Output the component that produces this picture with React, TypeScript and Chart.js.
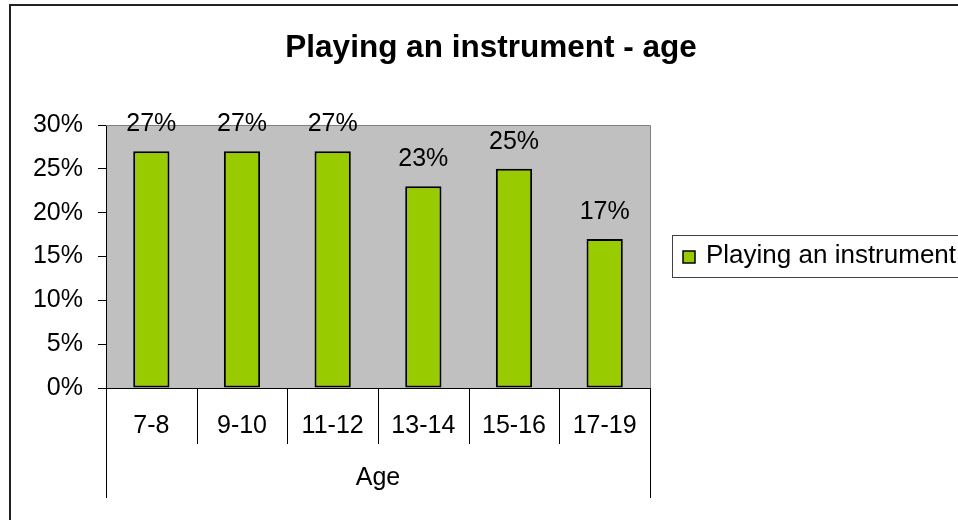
import React, { useEffect, useRef } from "react";
import { Chart, registerables } from "chart.js";

Chart.register(...registerables);

const TITLE = "Playing an instrument - age";
const CATEGORIES = ["7-8", "9-10", "11-12", "13-14", "15-16", "17-19"];
const SERIES_LABEL = "Playing an instrument";
const VALUES = [27, 27, 27, 23, 25, 17];
const Y_TICKS = [0, 5, 10, 15, 20, 25, 30];
const X_GROUP_LABEL = "Age";

const FONT = '"Liberation Sans", Arial, sans-serif';
const BAR_COLOR = "#99CC00";
const PLOT_BG = "#C0C0C0";

const decorPlugin = {
  id: "decor",
  beforeDraw(chart: any) {
    const { ctx, chartArea: a } = chart;
    ctx.save();
    ctx.fillStyle = "#FFFFFF";
    ctx.fillRect(0, 0, chart.width, chart.height);
    ctx.fillStyle = PLOT_BG;
    ctx.fillRect(a.left, a.top, a.right - a.left, a.bottom - a.top);
    ctx.restore();
  },
  beforeDatasetsDraw(chart: any) {
    const { ctx, chartArea: a } = chart;
    ctx.save();
    ctx.strokeStyle = "#808080";
    ctx.lineWidth = 1;
    ctx.beginPath();
    ctx.moveTo(a.left, a.top + 0.5);
    ctx.lineTo(a.right + 0.5, a.top + 0.5);
    ctx.lineTo(a.right + 0.5, a.bottom);
    ctx.stroke();
    ctx.restore();
  },
  afterDatasetsDraw(chart: any) {
    const { ctx } = chart;
    const meta = chart.getDatasetMeta(0);
    const data = chart.data.datasets[0].data;
    ctx.save();
    ctx.fillStyle = "#000";
    ctx.font = `25px ${FONT}`;
    ctx.textAlign = "center";
    ctx.textBaseline = "alphabetic";
    meta.data.forEach((el: any, i: number) => {
      ctx.fillText(`${data[i]}%`, el.x, el.y - 20);
    });
    ctx.restore();
  },
  afterDraw(chart: any) {
    const { ctx, chartArea: a } = chart;
    const xs = chart.scales.x;
    ctx.save();
    // frame
    ctx.strokeStyle = "#222";
    ctx.lineWidth = 2;
    ctx.strokeRect(10, 5, 1000, 600);

    // category dividers (multi-level axis)
    const n = chart.data.labels.length;
    const step = (xs.right - xs.left) / n;
    ctx.strokeStyle = "#000";
    ctx.lineWidth = 1;
    for (let i = 0; i <= n; i++) {
      const x = Math.round(xs.left + i * step) + 0.5;
      const yEnd = i === 0 || i === n ? xs.bottom : a.bottom + 56;
      ctx.beginPath();
      ctx.moveTo(x, a.bottom);
      ctx.lineTo(x, yEnd);
      ctx.stroke();
    }

    // title
    ctx.fillStyle = "#000";
    ctx.font = `bold 31.5px ${FONT}`;
    ctx.textAlign = "center";
    ctx.textBaseline = "alphabetic";
    ctx.fillText(TITLE, 491, 57);

    // legend
    const ds = chart.data.datasets[0];
    ctx.strokeStyle = "#404040";
    ctx.lineWidth = 1;
    ctx.strokeRect(672.5, 235.5, 400, 42);
    ctx.fillStyle = ds.backgroundColor;
    ctx.fillRect(683, 251, 12, 12);
    ctx.strokeStyle = "#000";
    ctx.lineWidth = 1.5;
    ctx.strokeRect(683, 251, 12, 12);
    ctx.fillStyle = "#000";
    ctx.font = `26px ${FONT}`;
    ctx.textAlign = "left";
    ctx.fillText(ds.label, 706, 263);
    ctx.restore();
  },
};

export default function App() {
  const ref = useRef<HTMLCanvasElement>(null);

  useEffect(() => {
    if (!ref.current) return;
    const chart = new Chart(ref.current, {
      type: "bar",
      data: {
        labels: CATEGORIES,
        datasets: [
          {
            label: SERIES_LABEL,
            data: VALUES,
            backgroundColor: BAR_COLOR,
            borderColor: "#000",
            borderWidth: 2,
            borderSkipped: false,
            categoryPercentage: 1,
            barPercentage: 0.4,
          },
        ],
      },
      options: {
        responsive: false,
        animation: false,
        events: [],
        layout: { padding: { left: 0, top: 125, right: 308, bottom: 22 } },
        plugins: {
          legend: { display: false },
          title: { display: false },
          tooltip: { enabled: false },
        },
        scales: {
          x: {
            offset: true,
            grid: { display: false, drawTicks: false },
            border: { display: true, color: "#000", width: 1 },
            ticks: {
              color: "#000",
              font: { family: FONT, size: 25, lineHeight: 1.2 },
              padding: 23,
              maxRotation: 0,
              autoSkip: false,
            },
            title: {
              display: true,
              text: X_GROUP_LABEL,
              color: "#000",
              font: { family: FONT, size: 25, lineHeight: 1.2 },
              padding: { top: 0, bottom: 5 },
            },
            afterFit(scale: any) {
              scale.height = 110;
            },
          },
          y: {
            min: 0,
            max: 30,
            afterBuildTicks(scale: any) {
              scale.ticks = Y_TICKS.map((v) => ({ value: v }));
            },
            grid: {
              drawOnChartArea: false,
              drawTicks: true,
              tickLength: 8,
              color: "#000",
              tickColor: "#000",
            },
            border: { display: true, color: "#000", width: 1 },
            ticks: {
              color: "#000",
              font: { family: FONT, size: 25, lineHeight: 1.2 },
              padding: 15,
              callback: (v: any) => `${v}%`,
            },
            afterFit(scale: any) {
              scale.width = 106;
            },
          },
        },
      },
      plugins: [decorPlugin],
    });
    return () => chart.destroy();
  }, []);

  return (
    <div style={{ position: "fixed", left: 0, top: 0, width: 958, height: 520 }}>
      <canvas ref={ref} width={958} height={520} style={{ width: 958, height: 520 }} />
    </div>
  );
}
